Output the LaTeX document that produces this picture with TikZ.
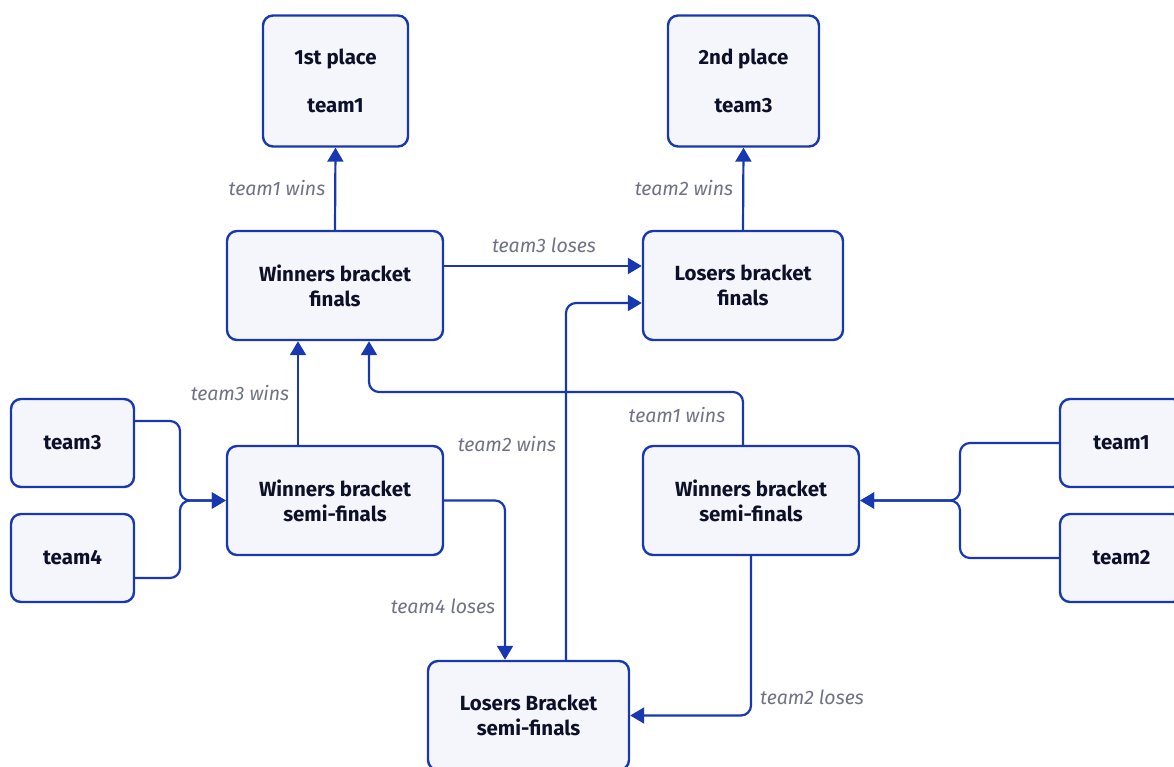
\documentclass[tikz,border=0pt]{standalone}
\usepackage{fontspec}
\setmainfont{Fira Sans}
\usetikzlibrary{arrows.meta}
\definecolor{bd}{RGB}{24,56,178}
\definecolor{bg}{RGB}{245,246,252}
\definecolor{tx}{RGB}{12,16,40}
\definecolor{lb}{RGB}{110,114,132}
\tikzset{
  box/.style={draw=bd, fill=bg, rounded corners=10pt, line width=2.4pt, text=tx,
    font=\fontsize{20.5}{25}\selectfont\bfseries, align=center, inner sep=0pt},
  edge/.style={draw=bd, line width=2.2pt, rounded corners=10pt,
    -{Triangle[length=14pt,width=16pt]}},
  lbl/.style={text=lb, font=\fontsize{19.5}{22}\selectfont\itshape, inner sep=0pt}
}
\begin{document}
\begin{tikzpicture}[x=1pt,y=-1pt]
\useasboundingbox (0,0) rectangle (1174,767);
% nodes
\node[box, minimum width=145pt, minimum height=131pt] (p1) at (335.5,81) {1st place\\[23pt]team1};
\node[box, minimum width=151pt, minimum height=131pt] (p2) at (743.5,81) {2nd place\\[23pt]team3};
\node[box, minimum width=216pt, minimum height=109pt] (wbf) at (335,285.5) {Winners bracket\\finals};
\node[box, minimum width=200pt, minimum height=109pt] (lbf) at (743,285.5) {Losers bracket\\finals};
\node[box, minimum width=123pt, minimum height=88pt] (t3) at (72.5,443) {team3};
\node[box, minimum width=123pt, minimum height=88pt] (t4) at (72.5,558) {team4};
\node[box, minimum width=216pt, minimum height=109pt] (wbsl) at (335,500.5) {Winners bracket\\semi-finals};
\node[box, minimum width=216pt, minimum height=109pt] (wbsr) at (751,500.5) {Winners bracket\\semi-finals};
\node[box, minimum width=123pt, minimum height=88pt] (t1) at (1121.5,443) {team1};
\node[box, minimum width=123pt, minimum height=88pt] (t2) at (1121.5,558) {team2};
\node[box, minimum width=201pt, minimum height=109pt] (lbs) at (528.5,715.5) {Losers Bracket\\semi-finals};
% edges
\draw[edge] (wbf.north) -- (p1.south);
\draw[edge] (lbf.north) -- (p2.south);
\draw[edge] ([yshift=19.5pt]wbf.east) -- ([yshift=19.5pt]lbf.west);
\draw[edge] ([xshift=37.5pt]lbs.north) -- (566,303) -- ([yshift=-17.5pt]lbf.west);
\draw[edge] ([xshift=-37pt]wbsl.north) -- ([xshift=-37pt]wbf.south);
\draw[edge] ([xshift=-8pt]wbsr.north) -- (743,392) -- (369,392) -- ([xshift=34pt]wbf.south);
\draw[edge] ([yshift=22pt]t3.east) -- (180,421) -- (180,500.5) -- (wbsl.west);
\draw[edge] ([yshift=-20pt]t4.east) -- (180,578) -- (180,500.5) -- (wbsl.west);
\draw[edge] (t1.west) -- (960,443) -- (960,500.5) -- (wbsr.east);
\draw[edge] (t2.west) -- (960,558) -- (960,500.5) -- (wbsr.east);
\draw[edge] (wbsl.east) -- (505,500.5) -- ([xshift=-23.5pt]lbs.north);
\draw[edge] (wbsr.south) -- (751,715.5) -- (lbs.east);
% labels
\node[lbl] (l1) at (277,188) {team1 wins};
\node[lbl] (l2) at (684,188) {team2 wins};
\node[lbl] (l3) at (544,245) {team3 loses};
\node[lbl] (l4) at (507,444) {team2 wins};
\node[lbl] (l5) at (240,393) {team3 wins};
\node[lbl] (l6) at (677,415) {team1 wins};
\node[lbl] (l7) at (443,606) {team4 loses};
\node[lbl] (l8) at (812,697) {team2 loses};
\end{tikzpicture}
\end{document}
